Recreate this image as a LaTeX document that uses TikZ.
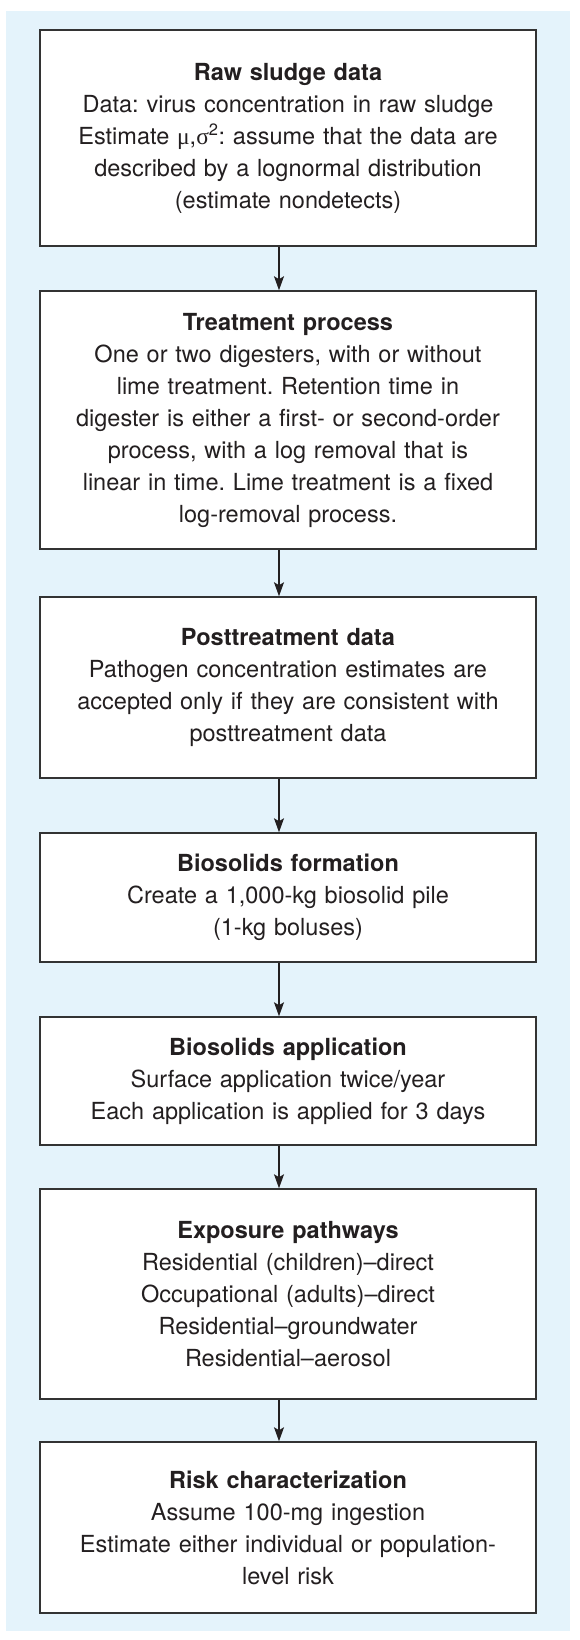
\documentclass[tikz,border=0pt]{standalone}
\usepackage{fontspec}
\setmainfont{TeX Gyre Heros}
\newfontfamily\grk{Liberation Serif}
\usetikzlibrary{arrows.meta}
\frenchspacing
\definecolor{bgblue}{HTML}{E4F3FB}
\definecolor{ink}{HTML}{231F20}
\definecolor{edge}{HTML}{333333}
\tikzset{
  stagebox/.style={draw=edge, line width=1.5pt, fill=white, minimum width=496pt,
    text width=480pt, align=center, inner sep=0pt, text=ink,
    font=\fontsize{23.5}{32}\selectfont\frenchspacing},
  flow/.style={draw=ink, line width=1.3pt, -{Stealth[length=14pt,width=10pt,inset=3pt]}}
}
\begin{document}
\begin{tikzpicture}[x=1pt,y=-1pt]
\useasboundingbox (0,0) rectangle (580,1640);
\fill[bgblue] (6,11) rectangle (570,1631);
\coordinate (ax) at (279,0);
\node[stagebox, minimum height=216pt] (b1) at (288,138) {\textbf{Raw sludge data}\\
Data: virus concentration in raw sludge\\
Estimate {\grk μ},{\grk σ}\textsuperscript{2}: assume that the data are\\
described by a lognormal distribution\\
(estimate nondetects)};
\node[stagebox, minimum height=258pt] (b2) at (288,420) {\textbf{Treatment process}\\
One or two digesters, with or without\\
lime treatment. Retention time in\\
digester is either a first- or second-order\\
process, with a log removal that is\\
linear in time. Lime treatment is a fixed\\
log-removal process.};
\node[stagebox, minimum height=181pt] (b3) at (288,687.5) {\textbf{Posttreatment data}\\
Pathogen concentration estimates are\\
accepted only if they are consistent with\\
posttreatment data};
\node[stagebox, minimum height=129pt] (b4) at (288,897.5) {\textbf{Biosolids formation}\\
Create a 1,000-kg biosolid pile\\
(1-kg boluses)};
\node[stagebox, minimum height=128pt] (b5) at (288,1081) {\textbf{Biosolids application}\\
Surface application twice/year\\
Each application is applied for 3 days};
\node[stagebox, minimum height=210pt] (b6) at (288,1294) {\textbf{Exposure pathways}\\
Residential (children)–direct\\
Occupational (adults)–direct\\
Residential–groundwater\\
Residential–aerosol};
\node[stagebox, minimum height=171pt] (b7) at (288,1527.5) {\textbf{Risk characterization}\\
Assume 100-mg ingestion\\
Estimate either individual or population-\\
level risk};
\draw[flow] (b1.south -| ax) -- (b2.north -| ax);
\draw[flow] (b2.south -| ax) -- (b3.north -| ax);
\draw[flow] (b3.south -| ax) -- (b4.north -| ax);
\draw[flow] (b4.south -| ax) -- (b5.north -| ax);
\draw[flow] (b5.south -| ax) -- (b6.north -| ax);
\draw[flow] (b6.south -| ax) -- (b7.north -| ax);
\end{tikzpicture}
\end{document}
